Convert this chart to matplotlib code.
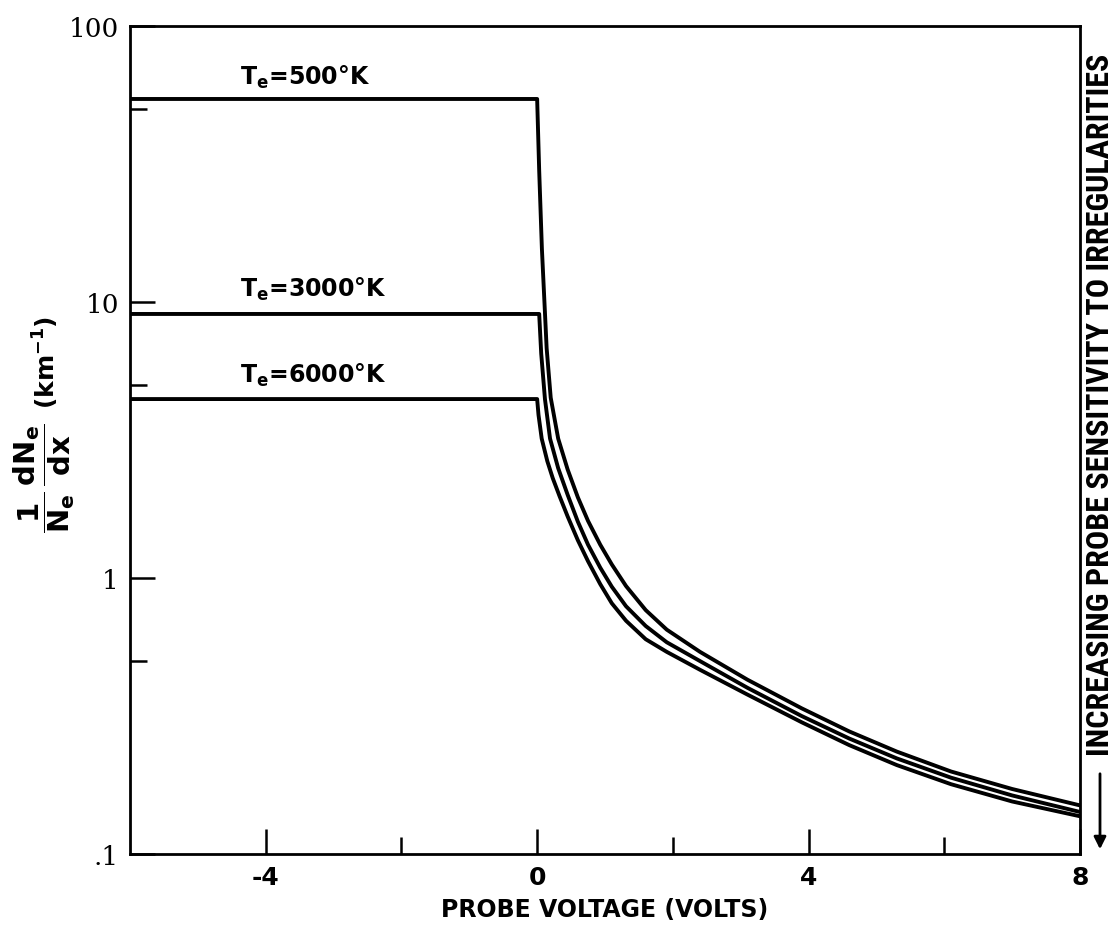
import numpy as np
import matplotlib
matplotlib.use("Agg")
import matplotlib.pyplot as plt
import matplotlib.font_manager as fm
from matplotlib.ticker import FixedLocator, FixedFormatter, NullFormatter

# values (probe voltage in volts, 1/Ne dNe/dx in km^-1)
v_500 = [-6, 0, 0.03, 0.07, 0.14, 0.2, 0.31, 0.45, 0.6, 0.75, 0.93, 1.1, 1.31, 1.6, 1.91, 2.4, 3.1, 3.9, 4.6, 5.3, 6.1, 7.0, 8.0]
g_500 = [54.4, 54.4, 30, 15.6, 6.8, 4.5, 3.2, 2.47, 1.96, 1.61, 1.32, 1.12, 0.935, 0.765, 0.65, 0.54, 0.428, 0.337, 0.278, 0.235, 0.199, 0.172, 0.15]

v_3000 = [-6, 0.03, 0.06, 0.115, 0.19, 0.31, 0.45, 0.6, 0.75, 0.93, 1.1, 1.31, 1.6, 1.91, 2.4, 3.1, 3.9, 4.6, 5.3, 6.1, 7.0, 8.0]
g_3000 = [9.05, 9.05, 6.5, 4.45, 3.2, 2.5, 2.0, 1.6, 1.32, 1.09, 0.93, 0.79, 0.67, 0.585, 0.5, 0.4, 0.316, 0.262, 0.222, 0.189, 0.163, 0.142]

v_6000 = [-6, 0, 0.02, 0.067, 0.15, 0.23, 0.33, 0.45, 0.6, 0.75, 0.93, 1.1, 1.31, 1.6, 1.91, 2.4, 3.1, 3.9, 4.6, 5.3, 6.1, 7.0, 8.0]
g_6000 = [4.45, 4.45, 3.9, 3.2, 2.65, 2.3, 1.98, 1.67, 1.37, 1.15, 0.95, 0.81, 0.7, 0.6, 0.54, 0.465, 0.378, 0.3, 0.248, 0.21, 0.179, 0.155, 0.137]

curve_labels = ["500", "3000", "6000"]

x_major = [-4, 0, 4, 8]
x_major_lbl = ["-4", "0", "4", "8"]
x_minor = [-2, 2, 6]
y_major = [0.1, 1, 10, 100]
y_major_lbl = [".1", "1", "10", "100"]
y_minor = [0.5, 5, 50]

# narrow face for the long side note, if one is around
narrow = "DejaVu Sans"
for name in ["Liberation Sans Narrow", "Roboto Condensed", "Open Sans Condensed"]:
    try:
        fm.findfont(fm.FontProperties(family=name), fallback_to_default=False)
        narrow = name
        break
    except ValueError:
        pass

fig = plt.figure(figsize=(11.16, 9.37), dpi=100)
ax = fig.add_axes([130 / 1116, 82 / 937, 950 / 1116, 828 / 937])

for xs, ys in [(v_500, g_500), (v_3000, g_3000), (v_6000, g_6000)]:
    ax.plot(xs, ys, color="black", lw=2.8, solid_joinstyle="round")

ax.set_yscale("log")
ax.set_xlim(-6, 8)
ax.set_ylim(0.1, 100)

ax.xaxis.set_major_locator(FixedLocator(x_major))
ax.xaxis.set_major_formatter(FixedFormatter(x_major_lbl))
ax.xaxis.set_minor_locator(FixedLocator(x_minor))
ax.xaxis.set_minor_formatter(NullFormatter())
ax.yaxis.set_major_locator(FixedLocator(y_major))
ax.yaxis.set_major_formatter(FixedFormatter(y_major_lbl))
ax.yaxis.set_minor_locator(FixedLocator(y_minor))
ax.yaxis.set_minor_formatter(NullFormatter())

ax.tick_params(which="major", direction="in", length=18, width=1.8, pad=8)
ax.tick_params(which="minor", direction="in", length=12, width=1.8)
for t in ax.get_xticklabels():
    t.set_fontsize(18)
    t.set_fontweight("bold")
for t in ax.get_yticklabels():
    t.set_fontsize(19)
    t.set_family("DejaVu Serif")
for s in ax.spines.values():
    s.set_linewidth(2.0)

ax.set_xlabel("PROBE VOLTAGE (VOLTS)", fontsize=17, fontweight="bold", labelpad=6)

# curve labels
lbl_pos = [(-4.38, 61.7), (-4.38, 10.5), (-4.38, 5.13)]
for lab, (lx, ly) in zip(curve_labels, lbl_pos):
    ax.text(lx, ly, r"T$_{\mathbf{e}}$=" + lab + "°K", fontsize=17, fontweight="bold", va="baseline", ha="left")

# y label: the fraction and the unit as two rotated pieces
fig.text(44 / 1116, 1 - 478 / 937,
         r"$\mathbf{\dfrac{1}{N_e}\,\dfrac{dN_e}{dx}}$",
         rotation=90, ha="center", va="center", fontsize=21, fontweight="bold")
fig.text(46 / 1116, 1 - 362 / 937, r"(km$^{\mathbf{-1}}$)",
         rotation=90, ha="center", va="center", fontsize=18, fontweight="bold")

# right side note with arrow
fig.text(1100 / 1116, 1 - 405 / 937, "INCREASING PROBE SENSITIVITY TO IRREGULARITIES",
         rotation=90, ha="center", va="center", fontsize=23, fontweight="bold",
         family=narrow, fontstretch="condensed")
ax.annotate("", xy=(1100, 937 - 853), xytext=(1100, 937 - 772), xycoords="figure pixels",
            textcoords="figure pixels",
            arrowprops=dict(arrowstyle="-|>", lw=2.0, color="black", mutation_scale=18))

fig.savefig("out.png", dpi=100)
